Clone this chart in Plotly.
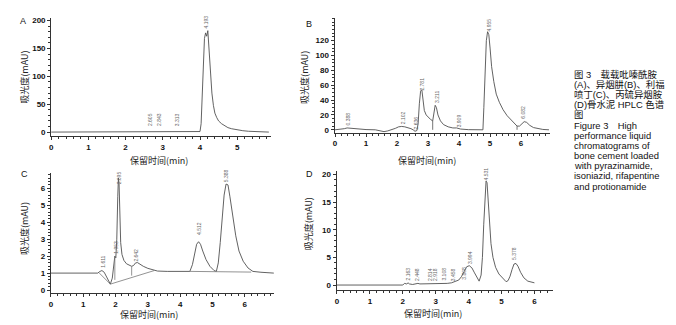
import plotly.graph_objects as go

# ---------------- data ----------------
# Panel A: pyrazinamide
A_time = [0, 0.5, 1.0, 1.5, 2.0, 2.3, 2.6, 2.65, 2.7, 2.85, 3.0, 3.3, 3.35, 3.5, 3.9, 4.0, 4.03, 4.06,
          4.09, 4.12, 4.15, 4.18, 4.21, 4.24, 4.28, 4.32, 4.36, 4.40, 4.45, 4.5, 4.58, 4.66, 4.75, 4.85,
          5.0, 5.15, 5.3, 5.5, 5.7, 5.85]
A_signal = [0, 0, 0, 0, 0, 0, 0.3, 1, 0.3, 0.5, 0.3, 0.3, 0.8, 0.3, 0.2, 1, 15, 70,
            135, 168, 178, 172, 182, 150, 105, 70, 48, 34, 26, 20, 15, 11, 8, 6,
            4, 2.5, 1.5, 0.7, 0.2, 0]
A_peak_rt = [2.64, 2.88, 3.37, 4.17]
A_peak_text = ["2.605", "2.843", "3.313", "4.193"]
A_peak_label_y = [7, 7, 7, 182]

# Panel B: isoniazid
B_time = [0, 0.2, 0.3, 0.39, 0.5, 0.7, 1.0, 1.3, 1.5, 1.58, 1.7, 1.85, 1.95, 2.05, 2.15, 2.25, 2.35,
          2.45, 2.52, 2.58, 2.64, 2.68, 2.72, 2.76, 2.8, 2.84, 2.88, 2.94, 3.0, 3.08, 3.15, 3.19, 3.23,
          3.27, 3.32, 3.4, 3.5, 3.65, 3.8, 3.92, 4.05, 4.3, 4.6, 4.77, 4.8, 4.84, 4.88, 4.92, 4.96, 5.0,
          5.05, 5.12, 5.2, 5.3, 5.42, 5.55, 5.7, 5.87, 5.95, 6.02, 6.1, 6.18, 6.28, 6.4, 6.55, 6.7, 6.9]
B_signal = [0, 0.5, 1.5, 2.5, 2, 1, 0.3, 0, -1.5, -2.5, -1.5, 0, 2, 4, 4.5, 4, 3,
            1.5, 0, -2, -1, 8, 35, 52, 54, 38, 26, 20, 17, 14, 12, 22, 33,
            30, 20, 12, 7, 4, 2.5, 2.5, 1, 0.2, -0.5, 0, 30, 80, 120, 132, 128, 110,
            85, 65, 48, 37, 27, 19, 12, 5, 5, 8, 11, 10, 6, 3, 1.5, 0.5, 0]
B_drop_time = [3.15, 3.15, None, 5.87, 5.87]
B_drop_signal = [12, 0, None, 5, 0]
B_peak_rt = [0.43, 2.18, 2.6, 2.82, 3.27, 4.0, 4.96, 6.07]
B_peak_text = ["0.388", "2.102", "2.636", "2.781", "3.211", "3.909", "4.955", "6.082"]
B_peak_label_y = [3, 5, -2, 50, 34, 0, 130, 12]

# Panel C: rifapentine
C_time = [0, 0.5, 1.0, 1.45, 1.52, 1.58, 1.65, 1.72, 1.78, 1.84, 1.9, 1.94, 1.98, 2.01, 2.04, 2.07,
          2.09, 2.11, 2.13, 2.16, 2.2, 2.26, 2.34, 2.42, 2.5, 2.56, 2.62, 2.68, 2.76, 2.86, 3.0, 3.15,
          3.3, 3.6, 4.0, 4.3, 4.38, 4.45, 4.51, 4.57, 4.63, 4.7, 4.8, 4.92, 5.05, 5.12, 5.18, 5.24,
          5.3, 5.36, 5.42, 5.48, 5.54, 5.62, 5.72, 5.82, 5.95, 6.1, 6.25, 6.5, 6.9]
C_signal = [1.0, 1.0, 1.0, 1.0, 1.1, 1.15, 1.05, 0.8, 0.55, 0.35, 0.7, 1.3, 2.0, 1.9, 3.0, 5.5,
            6.6, 6.3, 4.5, 2.8, 2.1, 1.75, 1.55, 1.45, 1.4, 1.45, 1.6, 1.62, 1.5, 1.4, 1.28, 1.18,
            1.12, 1.1, 1.1, 1.1, 1.5, 2.2, 2.7, 2.85, 2.7, 2.3, 1.8, 1.4, 1.15, 1.1, 1.6, 2.8,
            4.3, 5.6, 6.25, 6.2, 5.5, 4.4, 3.2, 2.3, 1.7, 1.3, 1.1, 1.05, 1.0]
C_base_time = [1.5, 1.84, 3.2, None, 1.98, 1.98, None, 2.5, 2.5, None, 4.3, 5.12, 6.2]
C_base_signal = [1.0, 0.35, 1.15, None, 2.0, 0.6, None, 1.4, 0.85, None, 1.1, 1.08, 1.06]
C_peak_rt = [1.63, 2.01, 2.1, 2.65, 4.56, 5.43]
C_peak_text = ["1.611", "1.953", "2.095", "2.642", "4.512", "5.388"]
C_peak_label_y = [1.17, 2.04, 6.13, 1.56, 3.12, 6.23]

# Panel D: protionamide
D_time = [0, 1.0, 2.0, 2.05, 2.12, 2.16, 2.2, 2.3, 2.4, 2.46, 2.52, 2.7, 2.84, 2.9, 3.0, 3.1, 3.2,
          3.35, 3.48, 3.6, 3.7, 3.78, 3.86, 3.94, 4.02, 4.1, 4.18, 4.26, 4.32, 4.38, 4.42, 4.46, 4.5,
          4.53, 4.56, 4.6, 4.64, 4.68, 4.74, 4.82, 4.92, 5.04, 5.14, 5.2, 5.26, 5.32, 5.38, 5.44, 5.5,
          5.58, 5.68, 5.8, 6.0]
D_signal = [0, 0, 0, 0.3, 0.2, 0.4, 0.2, 0.1, 0.2, 0.3, 0.2, 0.2, 0.3, 0.2, 0.3, 0.2, 0.3,
            0.3, 0.4, 0.6, 0.9, 1.5, 2.5, 3.3, 3.5, 3.1, 2.2, 1.2, 0.7, 1.8, 5, 11, 17,
            18.8, 18.5, 15, 10.5, 7.5, 5, 3.2, 2, 1.2, 0.6, 0.8, 1.6, 2.8, 3.8, 3.9, 3.4,
            2.3, 1.3, 0.7, 0.4]
D_peak_rt = [2.16, 2.45, 2.85, 3.0, 3.26, 3.52, 3.86, 4.04, 4.52, 5.40]
D_peak_text = ["2.163", "2.448", "2.814", "2.918", "3.108", "3.458", "3.808", "3.994", "4.531", "5.378"]
D_peak_label_y = [0.4, 0.4, 0.4, 0.4, 0.4, 0.4, 0.7, 3.5, 18.6, 4.2]

caption_lines = [
    "图 3　载载吡嗪酰胺",
    "(A)、异烟肼(B)、利福",
    "喷丁(C)、丙硫异烟胺",
    "(D)骨水泥 HPLC 色谱",
    "图",
    "Figure 3　High",
    "performance liquid",
    "chromatograms of",
    "bone cement loaded",
    "with pyrazinamide,",
    "isoniazid, rifapentine",
    "and protionamide",
]
x_title = "保留时间(min)"
y_title = "吸光度(mAU)"

# ---------------- layout helpers ----------------
W, H = 676, 325
def px(x):
    return x / W
def py(y):
    return 1 - y / H

LINE = "#505050"
AX = "#333333"
TICKFONT = dict(family="Liberation Sans, Arial, sans-serif", size=8, color="#111", weight="bold")
CJK = "Noto Sans CJK SC"

panels = [
    dict(ax="", t=A_time, s=A_signal, rt=A_peak_rt, txt=A_peak_text, ly=A_peak_label_y,
         xd=(49.3, 269.5), xr=[0, 5.9], xt=[0, 1, 2, 3, 4, 5],
         yd=(17, 136.7), yr=[-7.8, 205], yt=[0, 50, 100, 150, 200], ym=10,
         letter="A", lp=(21.5, 20), ytp=(22.5, 77), xtp=(157, 161)),
    dict(ax="2", t=B_time, s=B_signal, rt=B_peak_rt, txt=B_peak_text, ly=B_peak_label_y,
         xd=(333.5, 550), xr=[-0.016, 6.945], xt=[0, 1, 2, 3, 4, 5, 6],
         yd=(17, 133), yr=[-4, 150.7], yt=[0, 20, 40, 60, 80, 100, 120], ym=5,
         letter="B", lp=(308, 23), ytp=(303.5, 77), xtp=(426, 161)),
    dict(ax="3", t=C_time, s=C_signal, rt=C_peak_rt, txt=C_peak_text, ly=C_peak_label_y,
         xd=(49, 272.7), xr=[0, 6.9], xt=[0, 1, 2, 3, 4, 5, 6],
         yd=(173.3, 295), yr=[-0.19, 6.92], yt=[0, 1, 2, 3, 4, 5, 6], ym=0.2,
         letter="C", lp=(22.5, 175), ytp=(23.3, 230), xtp=(147.5, 316)),
    dict(ax="4", t=D_time, s=D_signal, rt=D_peak_rt, txt=D_peak_text, ly=D_peak_label_y,
         xd=(335.5, 553), xr=[-0.015, 6.576], xt=[0, 1, 2, 3, 4, 5, 6],
         yd=(171.7, 291.7), yr=[-0.9, 20.6], yt=[0, 5, 10, 15, 20], ym=1,
         letter="D", lp=(308.3, 175), ytp=(308.3, 225), xtp=(432.7, 315)),
]

fig = go.Figure()
annotations = []
layout = dict(
    width=W, height=H, margin=dict(l=0, r=0, t=0, b=0),
    paper_bgcolor="white", plot_bgcolor="white", showlegend=False,
)

for p in panels:
    xa = "x" + p["ax"]
    ya = "y" + p["ax"]
    fig.add_trace(go.Scatter(x=p["t"], y=p["s"], xaxis=xa, yaxis=ya, mode="lines",
                             line=dict(color=LINE, width=0.9), hoverinfo="skip"))
    xkey = "xaxis" + p["ax"]
    ykey = "yaxis" + p["ax"]
    layout[xkey] = dict(
        domain=[px(p["xd"][0]), px(p["xd"][1])], range=p["xr"], anchor=ya,
        showline=True, linecolor=AX, linewidth=1, ticks="outside", ticklen=3, tickwidth=1,
        tickcolor=AX, tickmode="array", tickvals=p["xt"], tickfont=TICKFONT,
        minor=dict(tickmode="linear", tick0=0, dtick=0.2, ticks="outside", ticklen=2,
                   tickcolor=AX, tickwidth=0.8),
        showgrid=False, zeroline=False, fixedrange=True,
    )
    layout[ykey] = dict(
        domain=[py(p["yd"][1]), py(p["yd"][0])], range=p["yr"], anchor=xa,
        showline=True, linecolor=AX, linewidth=1, ticks="outside", ticklen=3, tickwidth=1,
        tickcolor=AX, tickmode="array", tickvals=p["yt"], tickfont=TICKFONT,
        minor=dict(tickmode="linear", tick0=0, dtick=p["ym"], ticks="outside", ticklen=2,
                   tickcolor=AX, tickwidth=0.8),
        showgrid=False, zeroline=False, fixedrange=True,
    )
    for r, txt, ly in zip(p["rt"], p["txt"], p["ly"]):
        annotations.append(dict(x=r, y=ly, xref=xa, yref=ya, text=txt, showarrow=False,
                                textangle=-90, xanchor="center", yanchor="bottom",
                                font=dict(family="Liberation Sans, Arial", size=5, color="#666")))
    annotations.append(dict(x=px(p["lp"][0]), y=py(p["lp"][1]), xref="paper", yref="paper",
                            text=p["letter"], showarrow=False, xanchor="center", yanchor="middle",
                            font=dict(family="Liberation Sans, Arial", size=9, color="#111")))
    annotations.append(dict(x=px(p["ytp"][0]), y=py(p["ytp"][1]), xref="paper", yref="paper",
                            text=y_title, showarrow=False, textangle=-90, xanchor="center",
                            yanchor="middle", font=dict(family=CJK, size=9, color="#222")))
    annotations.append(dict(x=px(p["xtp"][0]), y=py(p["xtp"][1]), xref="paper", yref="paper",
                            text=x_title, showarrow=False, xanchor="center",
                            yanchor="middle", font=dict(family=CJK, size=9, color="#222")))

fig.add_trace(go.Scatter(x=B_drop_time, y=B_drop_signal, xaxis="x2", yaxis="y2", mode="lines",
                         line=dict(color=LINE, width=0.8), hoverinfo="skip"))
fig.add_trace(go.Scatter(x=C_base_time, y=C_base_signal, xaxis="x3", yaxis="y3", mode="lines",
                         line=dict(color="#777", width=0.8), hoverinfo="skip"))

for i, line in enumerate(caption_lines):
    annotations.append(dict(x=px(572), y=py(74 + i * 10.25), xref="paper", yref="paper",
                            text=line, showarrow=False, xanchor="left", yanchor="middle",
                            font=dict(family="Liberation Sans, " + CJK, size=9.4, color="#111")))

layout["annotations"] = annotations
fig.update_layout(**layout)
fig.write_html("out.html", config={"displayModeBar": False},
               post_script="document.body.style.margin='0';document.body.style.padding='0';")
